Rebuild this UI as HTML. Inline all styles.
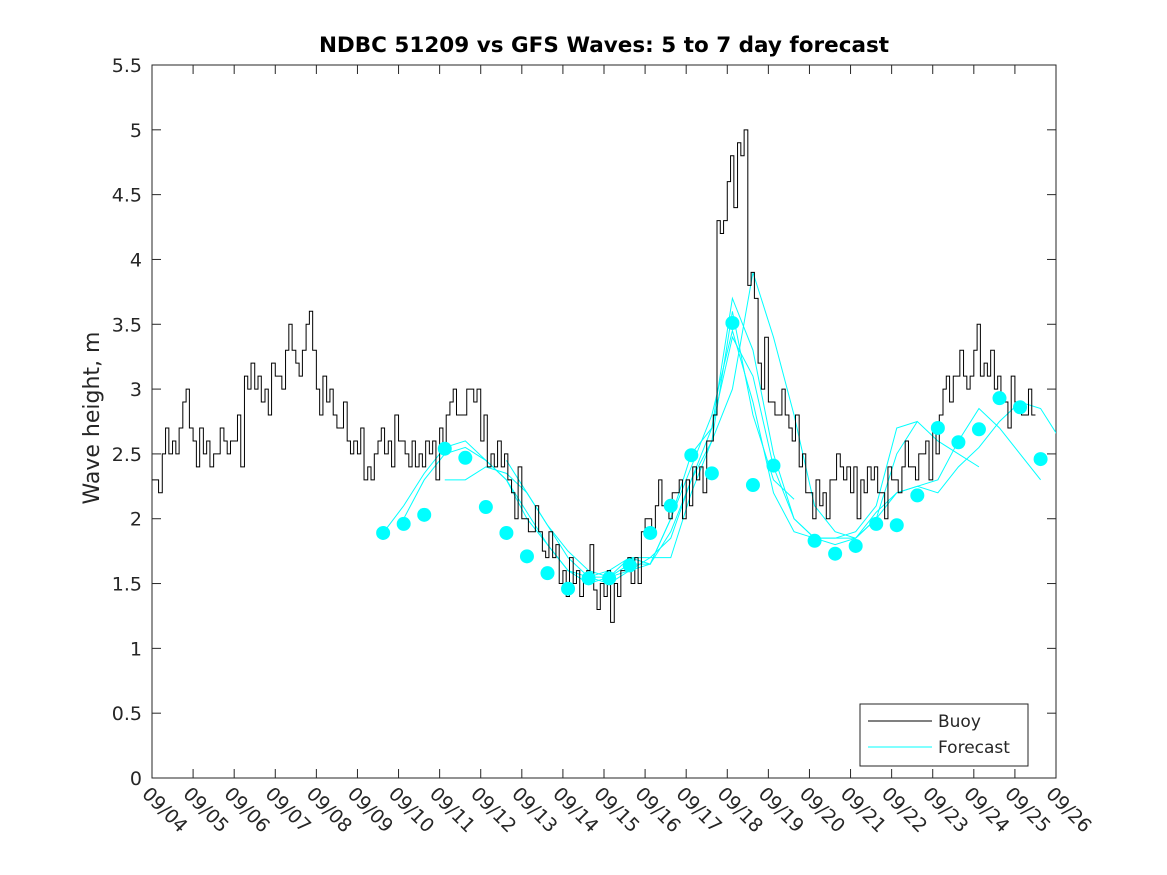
<!DOCTYPE html>
<html><head><meta charset="utf-8"><style>
body{margin:0;background:#fff;}
svg{display:block;font-family:"DejaVu Sans","Liberation Sans",sans-serif;}
</style></head><body>
<svg id="chart" width="1167" height="875" xmlns="http://www.w3.org/2000/svg">
<defs><clipPath id="clip"><rect x="152" y="65" width="904" height="713"/></clipPath></defs>
<rect width="1167" height="875" fill="#fff"/>
<text x="604" y="52" text-anchor="middle" font-size="21.5" font-weight="bold" fill="#000">NDBC 51209 vs GFS Waves: 5 to 7 day forecast</text>
<text transform="translate(99,418) rotate(-90)" text-anchor="middle" font-size="22" fill="#262626">Wave height, m</text>
<rect x="152" y="65" width="904" height="713" fill="#fff" stroke="#262626" stroke-width="1"/>
<g id="axes"></g>
<g id="series" clip-path="url(#clip)"></g>
<g>
<rect x="860" y="704" width="168" height="62" fill="#fff" stroke="#262626"/>
<line x1="868" y1="721" x2="932" y2="721" stroke="#000"/>
<text x="938" y="727" font-size="17" fill="#262626">Buoy</text>
<line x1="868" y1="747" x2="932" y2="747" stroke="#00ffff"/>
<text x="938" y="753" font-size="17" fill="#262626">Forecast</text>
</g>
</svg>
<script>
const xTickLabels=["09/04","09/05","09/06","09/07","09/08","09/09","09/10","09/11","09/12","09/13","09/14","09/15","09/16","09/17","09/18","09/19","09/20","09/21","09/22","09/23","09/24","09/25","09/26"];
const yTicks=[0,0.5,1,1.5,2,2.5,3,3.5,4,4.5,5,5.5];
const buoy=[2.3,2.5,2.6,2.9, 2.6,2.5,2.5,2.6, 2.6,3.1,3.0,3.0, 3.1,3.3,3.2,3.5, 3.0,2.9,2.7,2.6, 2.5,2.4,2.6,2.6, 2.6,2.4,2.5,2.5, 2.7,2.9,2.8,3.0, 2.6,2.5,2.4,2.2, 2.0,1.9,1.75,1.7, 1.6,1.5,1.55,1.45, 1.4,1.5,1.6,1.7, 2.0,2.1,2.1,2.2, 2.3,2.3,2.6,4.3, 4.6,4.9,3.8,3.2, 2.9,2.8,2.7,2.4, 2.2,2.1,2.3,2.4, 2.2,2.3,2.3,2.2, 2.3,2.4,2.4,2.5, 2.7,3.0,3.1,3.1, 3.3,3.2,3.0,2.9, 2.9,2.8];
const buoyJitter=[0,0.2,-0.1,0.1,-0.2,0.1,0,-0.1,0.2,-0.1,0.1,-0.2];
const dots=[1.89,1.96,2.03,2.54,2.47,2.09,1.89,1.71,1.58,1.46,1.54,1.54,1.64,1.89,2.10,2.49,2.35,3.51,2.26,2.41,null,1.83,1.73,1.79,1.96,1.95,2.18,2.70,2.59,2.69,2.93,2.86,2.46];
const fStarts=[0,1,3,6,10];
const f1=[1.89,2.1,2.35,2.55,2.6,2.45,2.3,2.05,1.8,1.6,1.5,1.55,1.7,1.7,1.85,2.3,2.6,3.6,2.8,2.3,2.15];
const f2=[2.0,2.3,2.5,2.55,2.45,2.3,2.0,1.8,1.6,1.55,1.55,1.65,1.65,2.0,2.5,2.7,3.7,3.3,2.5,2.0,1.85,1.85,1.9,2.1,2.7,2.75];
const f3=[2.3,2.3,2.4,2.35,2.2,1.95,1.7,1.55,1.5,1.6,1.7,1.7,2.2,2.6,3.0,3.9,3.4,2.8,2.1,1.9,1.85,2.0,2.5,2.75,2.6,2.5,2.4];
const f4=[2.45,2.2,1.95,1.75,1.6,1.55,1.6,1.65,1.9,2.3,2.7,3.4,3.1,2.4,2.0,1.85,1.8,1.85,2.0,2.2,2.25,2.3,2.6,2.85,2.7,2.5,2.3];
const f5=[1.55,1.6,1.7,1.65,2.0,2.4,2.8,3.45,2.9,2.2,1.9,1.85,1.85,1.85,2.05,2.2,2.25,2.2,2.4,2.55,2.75,2.9,2.85,2.6,2.4,2.25,2.2];
const forecasts=[f1,f2,f3,f4,f5];

const NS="http://www.w3.org/2000/svg";
const X=d=>152+d*(904/22), Y=v=>778-v*(713/5.5);
const axes=document.getElementById('axes'), series=document.getElementById('series');
function mk(tag,attrs,parent){const e=document.createElementNS(NS,tag);for(const k in attrs)e.setAttribute(k,attrs[k]);parent.appendChild(e);return e;}
yTicks.forEach(v=>{
  const y=Y(v);
  const t=mk('line',{x1:152,x2:161,y1:y,y2:y,stroke:'#262626'},axes);
  
  
  const t2=mk('line',{x1:1047,x2:1056,y1:y,y2:y,stroke:'#262626'},axes);
  
  
  const l=mk('text',{x:142,y:y+7,'text-anchor':'end','font-size':19,fill:'#262626'},axes);
  l.textContent=String(v);
  
  
});
xTickLabels.forEach((s,i)=>{
  const x=X(i);
  const t=mk('line',{x1:x,x2:x,y1:778,y2:769,stroke:'#262626'},axes);
  
  
  const t2=mk('line',{x1:x,x2:x,y1:65,y2:74,stroke:'#262626'},axes);
  
  
  const l=mk('text',{transform:`translate(${x-11},${795}) rotate(45)`,'font-size':19,fill:'#262626'},axes);
  l.textContent=s;
  
  
});
forecasts.forEach((f,k)=>{
  const pts=f.map((v,i)=>X(5.625+0.5*(fStarts[k]+i))+','+Y(v)).join(' ');
  const p=mk('polyline',{points:pts,fill:'none',stroke:'#00ffff','stroke-width':1},series);
  
  
});
let bp=[];
buoy.forEach((v,i)=>{
  const d=i*0.25;
  const a=Math.round((v+buoyJitter[i%12])*10)/10;
  const c=Math.round((v-buoyJitter[(i+5)%12])*10)/10;
  bp.push(X(d)+','+Y(v)); bp.push(X(d+0.08)+','+Y(v));
  bp.push(X(d+0.08)+','+Y(a)); bp.push(X(d+0.16)+','+Y(a));
  bp.push(X(d+0.16)+','+Y(c)); bp.push(X(d+0.25)+','+Y(c));
});
const b=mk('polyline',{points:bp.join(' '),fill:'none',stroke:'#000','stroke-width':1},series);


dots.forEach((v,i)=>{
  if(v===null)return;
  const c=mk('circle',{cx:X(5.625+0.5*i),cy:Y(v),r:7,fill:'#00ffff'},series);
  
  
});
</script>
</body></html>
